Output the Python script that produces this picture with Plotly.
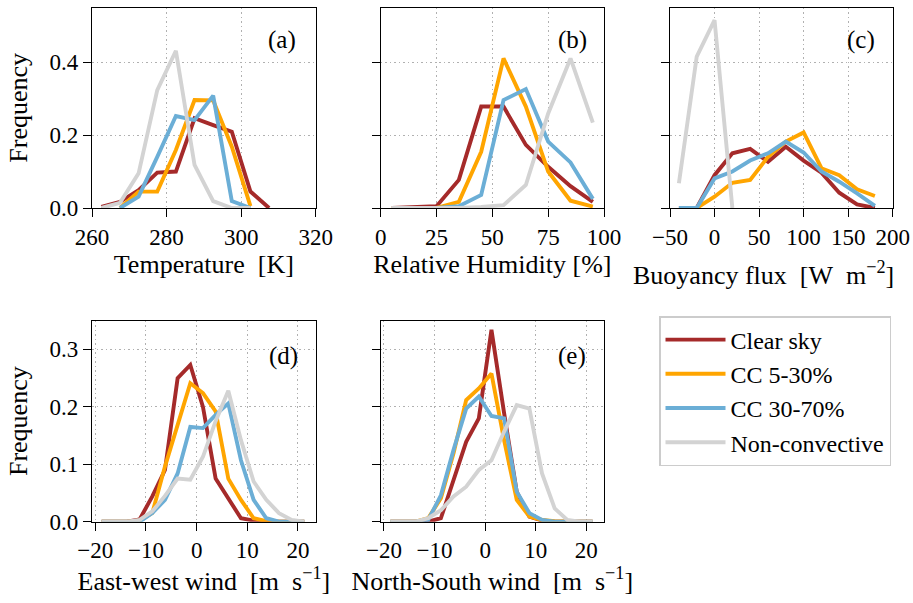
import plotly.graph_objects as go

# ---------------- data ----------------
series_names = ["Clear sky", "CC 5-30%", "CC 30-70%", "Non-convective"]
series_colors = ["#a52a2a", "#ffa500", "#6baed6", "#d3d3d3"]

# (a) temperature
temp_x = [262.5, 267.5, 272.5, 277.5, 282.5, 287.5, 292.5, 297.5, 302.5, 307.5]
temp_clear = [0.003, 0.017, 0.049, 0.097, 0.100, 0.246, 0.227, 0.209, 0.045, 0.0]
temp_cc5 = [None, 0.0, 0.045, 0.045, 0.159, 0.296, 0.295, 0.168, 0.005, None]
temp_cc30 = [None, 0.0, 0.031, 0.140, 0.252, 0.241, 0.308, 0.019, 0.0, None]
temp_nc = [0.0, 0.014, 0.095, 0.323, 0.431, 0.118, 0.019, 0.0, 0.0, None]

# (b) relative humidity
rh_x = [5, 15, 25, 35, 45, 55, 65, 75, 85, 95]
rh_clear = [0.0, 0.002, 0.005, 0.077, 0.278, 0.278, 0.173, 0.113, 0.060, 0.017]
rh_cc5 = [0.0, 0.0, 0.0, 0.017, 0.154, 0.410, 0.278, 0.100, 0.020, 0.004]
rh_cc30 = [0.0, 0.0, 0.0, 0.005, 0.036, 0.296, 0.326, 0.182, 0.125, 0.025]
rh_nc = [0.0, 0.0, 0.0, 0.0, 0.003, 0.008, 0.063, 0.259, 0.410, 0.234]

# (c) buoyancy flux
bf_x = [-40, -20, 0, 20, 40, 60, 80, 100, 120, 140, 160, 180]
bf_clear = [0.0, 0.0, 0.090, 0.150, 0.162, 0.127, 0.168, 0.130, 0.097, 0.042, 0.010, 0.0]
bf_cc5 = [None, 0.0, 0.031, 0.069, 0.077, 0.140, 0.182, 0.207, 0.109, 0.090, 0.051, 0.033]
bf_cc30 = [0.0, 0.0, 0.081, 0.100, 0.130, 0.150, 0.182, 0.152, 0.100, 0.072, 0.040, 0.006]
bf_nc = [0.068, 0.415, 0.515, 0.0, None, None, None, None, None, None, None, None]

# (d) east-west wind, (e) north-south wind
wind_x = [-18.75, -16.25, -13.75, -11.25, -8.75, -6.25, -3.75, -1.25, 1.25,
          3.75, 6.25, 8.75, 11.25, 13.75, 16.25, 18.75, 21.25]
ew_clear = [0, 0, 0, 0.004, 0.044, 0.090, 0.250, 0.273, 0.200, 0.075, 0.041, 0.006, 0.002, 0, 0, 0, 0]
ew_cc5 = [0, 0, 0, 0.002, 0.015, 0.096, 0.171, 0.241, 0.224, 0.192, 0.075, 0.038, 0.006, 0.001, 0, 0, 0]
ew_cc30 = [0, 0, 0, 0, 0.015, 0.038, 0.084, 0.165, 0.163, 0.186, 0.206, 0.107, 0.038, 0.006, 0, 0, 0]
ew_nc = [0, 0, 0, 0.003, 0.018, 0.045, 0.075, 0.073, 0.113, 0.175, 0.228, 0.142, 0.070, 0.038, 0.015, 0.003, 0]

ns_clear = [0, 0, 0, 0, 0.006, 0.073, 0.139, 0.180, 0.334, 0.189, 0.052, 0.009, 0.002, 0, 0, 0, 0]
ns_cc5 = [0, 0, 0, 0.006, 0.041, 0.119, 0.212, 0.232, 0.258, 0.142, 0.038, 0.009, 0.003, 0.001, 0, 0, 0]
ns_cc30 = [0, 0, 0, 0.003, 0.046, 0.125, 0.197, 0.218, 0.184, 0.180, 0.052, 0.015, 0.003, 0, 0, 0, 0]
ns_nc = [0, 0, 0, 0.006, 0.020, 0.044, 0.061, 0.090, 0.107, 0.157, 0.203, 0.197, 0.084, 0.023, 0.003, 0, 0]

# tick labels
temp_ticks = [260, 280, 300, 320]
rh_ticks = [0, 25, 50, 75, 100]
bf_ticks = [-50, 0, 50, 100, 150, 200]
wind_ticks = [-20, -10, 0, 10, 20]
top_yticks = [0.0, 0.2, 0.4]
bot_yticks = [0.0, 0.1, 0.2, 0.3]

panels = [
    dict(x=temp_x, ys=[temp_clear, temp_cc5, temp_cc30, temp_nc], ticks=temp_ticks,
         xr=[260, 320], title="Temperature\u00a0 [K]", label="(a)"),
    dict(x=rh_x, ys=[rh_clear, rh_cc5, rh_cc30, rh_nc], ticks=rh_ticks,
         xr=[0, 100], title="Relative Humidity [%]", label="(b)"),
    dict(x=bf_x, ys=[bf_clear, bf_cc5, bf_cc30, bf_nc], ticks=bf_ticks,
         xr=[-50, 200], title=None, label="(c)"),
    dict(x=wind_x, ys=[ew_clear, ew_cc5, ew_cc30, ew_nc], ticks=wind_ticks,
         xr=[-20.65, 23.5], title="East-west wind\u00a0 [m\u00a0 s<sup>\u22121</sup>]", label="(d)"),
    dict(x=wind_x, ys=[ns_clear, ns_cc5, ns_cc30, ns_nc], ticks=wind_ticks,
         xr=[-20.65, 23.5], title="North-South wind\u00a0 [m\u00a0 s<sup>\u22121</sup>]", label="(e)"),
]
bf_title = "Buoyancy flux\u00a0 [W\u00a0 m<sup>\u22122</sup>]"

# ---------------- layout geometry ----------------
W, H = 913, 603
FONT = "Liberation Serif"
x_domains = [[92, 315.7], [380.7, 604], [670, 892.7], [92, 315.7], [380.7, 604]]
y_domains = [[7.7, 208], [7.7, 208], [7.7, 208], [320.7, 521.7], [320.7, 521.7]]
label_pos = [(298, 40), (589, 40), (877, 40), (300, 356), (588, 356)]


def fmt_tick(v):
    s = f"{v:g}"
    return s.replace("-", "\u2212")


fig = go.Figure()
layout = dict(
    width=W, height=H,
    margin=dict(l=0, r=0, t=0, b=0),
    paper_bgcolor="white", plot_bgcolor="white",
    font=dict(family=FONT, size=23, color="black"),
    showlegend=True,
    legend=dict(x=659 / W, y=1 - 316 / H, xanchor="left", yanchor="top",
                bordercolor="#cccccc", borderwidth=1.5, bgcolor="white",
                font=dict(family=FONT, size=24, color="black"),
                itemwidth=60, tracegroupgap=0),
    annotations=[],
)

for i, p in enumerate(panels):
    n = i + 1
    xa = "xaxis" if n == 1 else f"xaxis{n}"
    ya = "yaxis" if n == 1 else f"yaxis{n}"
    xref = "x" if n == 1 else f"x{n}"
    yref = "y" if n == 1 else f"y{n}"
    top_row = i < 3
    yt = top_yticks if top_row else bot_yticks
    show_ylabels = i in (0, 3)
    for k in range(4):
        fig.add_trace(go.Scatter(
            x=p["x"], y=p["ys"][k], mode="lines", xaxis=xref, yaxis=yref,
            name=series_names[k], legendgroup=series_names[k], showlegend=(i == 0),
            line=dict(color=series_colors[k], width=3.9), connectgaps=False,
            hoverinfo="skip"))
    xd = x_domains[i]
    yd = y_domains[i]
    common = dict(showline=True, mirror=True, linecolor="black", linewidth=1.3,
                  ticks="outside", ticklen=8, tickwidth=1.3, tickcolor="black",
                  showgrid=True, gridcolor="#b0b0b0", gridwidth=1.2, griddash="1.5px,3px",
                  zeroline=False, automargin=False,
                  tickfont=dict(family=FONT, size=23, color="black"))
    xax = dict(common, domain=[xd[0] / W, xd[1] / W], range=p["xr"],
               tickvals=p["ticks"], ticktext=[fmt_tick(v) for v in p["ticks"]],
               anchor=yref)
    if p["title"]:
        xax["title"] = dict(text=p["title"], standoff=6,
                            font=dict(family=FONT, size=26, color="black"))
    layout[xa] = xax
    yax = dict(common, domain=[1 - yd[1] / H, 1 - yd[0] / H],
               range=[0, 0.549] if top_row else [0, 0.350],
               tickvals=yt, showticklabels=show_ylabels, anchor=xref)
    if show_ylabels:
        yax["ticktext"] = [f"{v:.1f}" for v in yt]
        yax["title"] = dict(text="Frequency", standoff=14,
                            font=dict(family=FONT, size=26, color="black"))
    layout[ya] = yax
    lx, ly = label_pos[i]
    layout["annotations"].append(dict(
        text=p["label"], x=lx / W, y=1 - ly / H, xref="paper", yref="paper",
        xanchor="right", yanchor="middle", showarrow=False,
        font=dict(family=FONT, size=25, color="black")))

# x-axis label of panel (c), placed as in the reference (slightly left of centre)
layout["annotations"].append(dict(
    text=bf_title, x=763 / W, y=1 - 273 / H, xref="paper", yref="paper",
    xanchor="center", yanchor="middle", showarrow=False,
    font=dict(family=FONT, size=26, color="black")))

fig.update_layout(**layout)
fig.write_html("out.html")
